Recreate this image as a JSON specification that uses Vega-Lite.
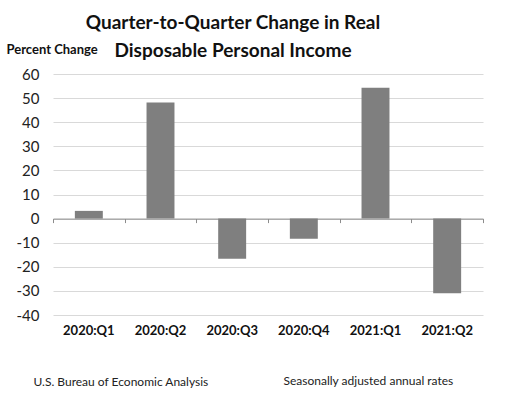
{
  "$schema": "https://vega.github.io/schema/vega-lite/v6.json",
  "width": 430,
  "height": 241,
  "autosize": "none",
  "padding": {"left": 53, "top": 74, "right": 44, "bottom": 81},
  "background": "white",
  "config": {"view": {"stroke": null}, "font": "Lato"},
  "title": {
    "text": ["Quarter-to-Quarter Change in Real", "Disposable Personal Income"],
    "fontSize": 19,
    "fontWeight": "bold",
    "font": "Lato",
    "color": "#111111",
    "lineHeight": 28,
    "dx": -35,
    "dy": 32,
    "offset": 14,
    "anchor": "middle"
  },
  "data": {
    "values": [
      {"quarter": "2020:Q1", "change": 3.2},
      {"quarter": "2020:Q2", "change": 48.2},
      {"quarter": "2020:Q3", "change": -16.7},
      {"quarter": "2020:Q4", "change": -8.4},
      {"quarter": "2021:Q1", "change": 54.3},
      {"quarter": "2021:Q2", "change": -31.0}
    ]
  },
  "layer": [
    {
      "mark": {"type": "bar", "color": "#7f7f7f", "width": {"band": 0.39}},
      "encoding": {
        "x": {
          "field": "quarter",
          "type": "nominal",
          "sort": null,
          "scale": {"paddingInner": 0, "paddingOuter": 0},
          "axis": {
            "orient": "bottom",
            "domain": false,
            "ticks": false,
            "labelAngle": 0,
            "labelFontSize": 13,
            "labelFontWeight": "bold",
            "labelColor": "#111111",
            "labelPadding": 9,
            "title": "U.S. Bureau of Economic Analysis",
            "titleFontSize": 12,
            "titleFontWeight": "normal",
            "titleColor": "#222222",
            "titleAnchor": "start",
            "titleAlign": "left",
            "titleBaseline": "alphabetic",
            "titleX": -20,
            "titleY": 70
          }
        },
        "y": {
          "field": "change",
          "type": "quantitative",
          "scale": {"domain": [-40, 60], "nice": false},
          "axis": {
            "values": [-40, -30, -20, -10, 0, 10, 20, 30, 40, 50, 60],
            "labelOverlap": false,
            "labelExpr": "replace(datum.label, '−', '-')",
            "grid": true,
            "gridColor": "#d9d9d9",
            "gridWidth": 1,
            "domain": false,
            "ticks": false,
            "labelFontSize": 15,
            "labelColor": "#222222",
            "labelPadding": 14,
            "title": "Percent Change",
            "titleAngle": 0,
            "titleFontSize": 13,
            "titleFontWeight": "bold",
            "titleColor": "#111111",
            "titleAlign": "left",
            "titleAnchor": "start",
            "titleBaseline": "alphabetic",
            "titleX": -47,
            "titleY": -21
          }
        }
      }
    },
    {
      "mark": {"type": "point", "opacity": 0},
      "encoding": {
        "x": {
          "field": "quarter",
          "type": "nominal",
          "sort": null,
          "axis": {
            "orient": "bottom",
            "offset": -96.4,
            "domain": true,
            "domainColor": "#8c8c8c",
            "domainWidth": 1,
            "ticks": true,
            "tickBand": "extent",
            "tickColor": "#8c8c8c",
            "tickWidth": 1,
            "tickSize": 4,
            "labels": false,
            "title": "Seasonally adjusted annual rates",
            "titleFontSize": 12,
            "titleFontWeight": "normal",
            "titleColor": "#222222",
            "titleAnchor": "start",
            "titleAlign": "left",
            "titleBaseline": "alphabetic",
            "titleX": 230,
            "titleY": 166
          }
        }
      }
    }
  ],
  "resolve": {"axis": {"x": "independent"}}
}
